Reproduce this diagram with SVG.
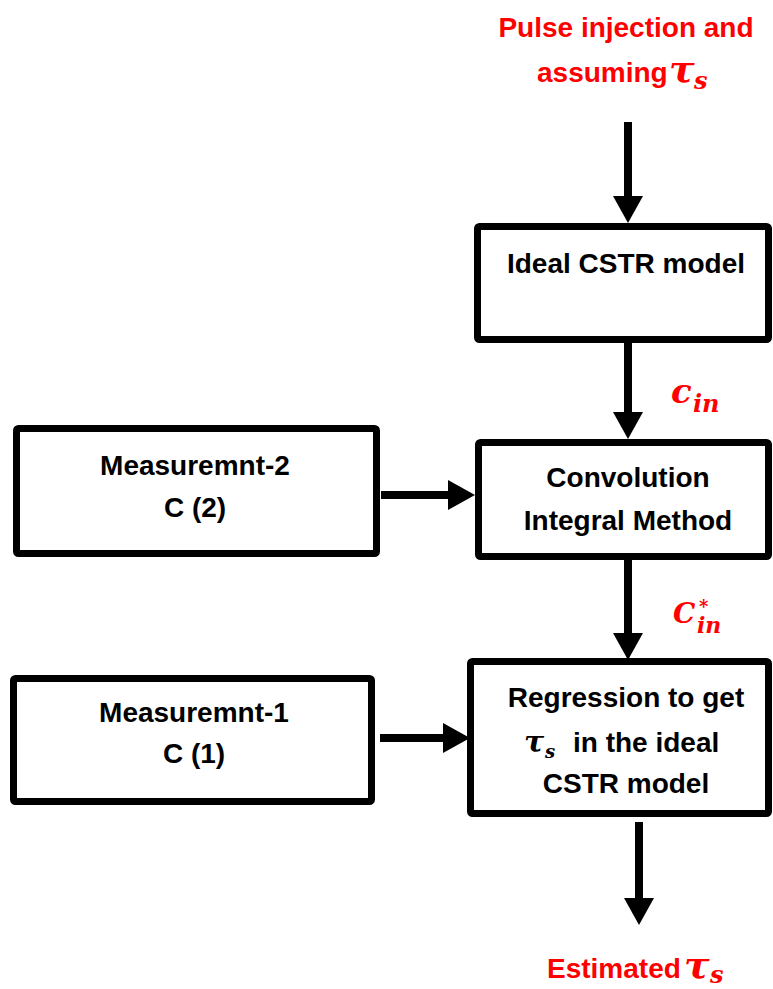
<svg xmlns="http://www.w3.org/2000/svg" width="773" height="989" viewBox="0 0 773 989">
<style>
.box{fill:#fff;stroke:#000;stroke-width:7}
.t{font-family:"Liberation Sans",Arial,sans-serif;font-weight:bold;font-size:28px;fill:#000;text-anchor:middle}
.r{fill:#ff0000}
.m{font-family:"DejaVu Serif","Liberation Serif",serif;font-style:italic;font-weight:bold;fill:#ff0000}
.mk{font-family:"DejaVu Serif","Liberation Serif",serif;font-style:italic;font-weight:bold;fill:#000}
.c{stroke:#000;stroke-width:8;fill:none;marker-end:url(#ah)}
</style>
<defs>
<marker id="ah" markerUnits="userSpaceOnUse" markerWidth="27" markerHeight="30" viewBox="0 0 27 30" refX="7" refY="15" orient="auto">
<path d="M0,0 L27,15 L0,30 z" fill="#000"/>
</marker>
</defs>
<rect width="773" height="989" fill="#fff"/>
<g id="input-label">
<text class="t r" x="626" y="37">Pulse injection and</text>
<text class="t r" x="537" y="82" style="text-anchor:start">assuming</text>
<text class="m" x="669" y="82" font-size="38">τ</text>
<text class="m" x="694" y="89" font-size="24">s</text>
</g>
<g id="ideal-cstr">
<rect class="box" x="477.5" y="226.5" width="291" height="113" rx="2"/>
<text class="t" x="626" y="273">Ideal CSTR model</text>
</g>
<g id="convolution">
<rect class="box" x="478.5" y="442.5" width="290" height="114" rx="2"/>
<text class="t" x="628" y="487">Convolution</text>
<text class="t" x="628" y="530">Integral Method</text>
</g>
<g id="measurement-2">
<rect class="box" x="16.5" y="428.5" width="360" height="125" rx="2"/>
<text class="t" x="195" y="475">Measuremnt-2</text>
<text class="t" x="195" y="517">C (2)</text>
</g>
<g id="regression">
<rect class="box" x="470.5" y="661.5" width="298" height="152" rx="2"/>
<text class="t" x="626" y="707">Regression to get</text>
<text class="mk" x="524" y="752" font-size="30">τ</text>
<text class="mk" x="545" y="758" font-size="18">s</text>
<text class="t" x="573" y="752" style="text-anchor:start">in the ideal</text>
<text class="t" x="626" y="793">CSTR model</text>
</g>
<g id="measurement-1">
<rect class="box" x="13.5" y="678.5" width="358" height="123" rx="2"/>
<text class="t" x="194" y="722">Measuremnt-1</text>
<text class="t" x="194" y="763">C (1)</text>
</g>
<g id="output-label">
<text class="t r" x="547" y="978" style="text-anchor:start">Estimated</text>
<text class="m" x="684" y="978" font-size="38">τ</text>
<text class="m" x="710" y="983" font-size="24">s</text>
</g>
<g id="edge-labels">
<text class="m" x="671" y="403" font-size="34">c</text>
<text class="m" x="693" y="412" font-size="24">in</text>
<text class="m" x="673" y="623" font-size="28">C</text>
<text class="m" x="699" y="613" font-size="18">*</text>
<text class="m" x="697" y="633" font-size="22">in</text>
</g>
<g id="connectors">
<line class="c" x1="628" y1="122" x2="628" y2="203"/>
<line class="c" x1="628" y1="343" x2="628" y2="419"/>
<line class="c" x1="381" y1="495" x2="455" y2="495"/>
<line class="c" x1="628" y1="560" x2="628" y2="640"/>
<line class="c" x1="380" y1="738" x2="450" y2="738"/>
<line class="c" x1="639" y1="822" x2="639" y2="905"/>
</g>
</svg>
